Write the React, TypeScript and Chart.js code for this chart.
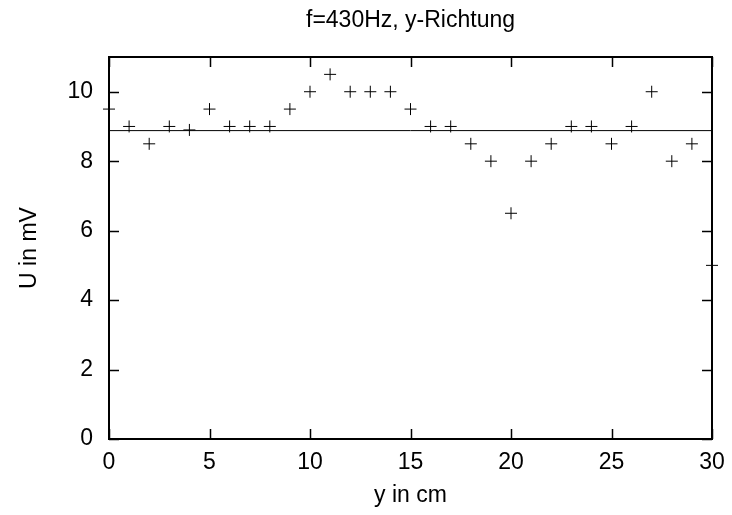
import React, { useEffect, useRef } from "react";
import { Chart, registerables } from "chart.js";

Chart.register(...registerables);

const titleText = "f=430Hz, y-Richtung";
const xAxisLabel = "y in cm";
const yAxisLabel = "U in mV";

const positions = [0, 1, 2, 3, 4, 5, 6, 7, 8, 9, 10, 11, 12, 13, 14, 15, 16, 17, 18, 19, 20, 21, 22, 23, 24, 25, 26, 27, 28, 29, 30];
const voltages = [9.5, 9, 8.5, 9, 8.9, 9.5, 9, 9, 9, 9.5, 10, 10.5, 10, 10, 10, 9.5, 9, 9, 8.5, 8, 6.5, 8, 8.5, 9, 9, 8.5, 9, 10, 8, 8.5, 5];
const meanVoltage = 8.88;

const xTicks = [0, 5, 10, 15, 20, 25, 30];
const yTicks = [0, 2, 4, 6, 8, 10];
const xMin = 0;
const xMax = 30;
const yMin = 0;
const yMax = 11;

const FONT = "'Liberation Sans', Arial, Helvetica, sans-serif";
const FONT_SIZE = 23;

const framePlugin = {
  id: "gnuplotFrame",
  afterDatasetsDraw(chart: any) {
    const { ctx, chartArea, scales } = chart;
    const { left, right, top, bottom } = chartArea;
    ctx.save();
    ctx.strokeStyle = "#000";
    ctx.lineWidth = 2;
    ctx.strokeRect(left, top, right - left, bottom - top);
    ctx.lineWidth = 1.5;
    const tl = 10;
    ctx.beginPath();
    for (const v of xTicks) {
      const x = Math.round(scales.x.getPixelForValue(v)) + 0.5;
      ctx.moveTo(x, bottom);
      ctx.lineTo(x, bottom - tl);
      ctx.moveTo(x, top);
      ctx.lineTo(x, top + tl);
    }
    for (const v of yTicks) {
      const y = Math.round(scales.y.getPixelForValue(v)) + 0.5;
      ctx.moveTo(left, y);
      ctx.lineTo(left + tl, y);
      ctx.moveTo(right, y);
      ctx.lineTo(right - tl, y);
    }
    ctx.stroke();

    ctx.fillStyle = "#000";
    ctx.font = `${FONT_SIZE}px ${FONT}`;
    ctx.textAlign = "center";
    ctx.textBaseline = "middle";
    ctx.fillText(titleText, (left + right) / 2, 21);
    ctx.fillText(xAxisLabel, (left + right) / 2, 496);
    ctx.translate(30, (top + bottom) / 2);
    ctx.rotate(-Math.PI / 2);
    ctx.fillText(yAxisLabel, 0, 0);
    ctx.restore();
  },
};

export default function App() {
  const canvasRef = useRef<HTMLCanvasElement | null>(null);

  useEffect(() => {
    document.body.style.margin = "0";
    const canvas = canvasRef.current;
    if (!canvas) return;
    const chart = new Chart(canvas, {
      type: "scatter",
      data: {
        datasets: [
          {
            label: "U",
            data: positions.map((p, i) => ({ x: p, y: voltages[i] })),
            showLine: false,
            pointStyle: "cross",
            pointRadius: 6,
            pointBorderWidth: 1,
            borderColor: "#000",
            backgroundColor: "#000",
            clip: false as any,
          },
          {
            label: "Mittelwert",
            data: [
              { x: xMin, y: meanVoltage },
              { x: xMax, y: meanVoltage },
            ],
            showLine: true,
            pointRadius: 0,
            borderWidth: 1,
            borderColor: "#000",
          },
        ],
      },
      options: {
        animation: false,
        responsive: false,
        maintainAspectRatio: false,
        layout: { padding: { top: 57, right: 20, left: 0, bottom: 0 } },
        plugins: {
          legend: { display: false },
          title: { display: false },
          tooltip: { enabled: false },
        },
        scales: {
          x: {
            type: "linear",
            min: xMin,
            max: xMax,
            afterBuildTicks: (s: any) => {
              s.ticks = xTicks.map((v) => ({ value: v }));
            },
            afterFit: (s: any) => {
              s.height = 76;
              s.paddingLeft = 0;
              s.paddingRight = 0;
            },
            grid: { display: false, drawTicks: false },
            border: { display: false },
            ticks: {
              color: "#000",
              padding: 10,
              maxRotation: 0,
              font: { family: FONT, size: FONT_SIZE },
            },
          },
          y: {
            type: "linear",
            min: yMin,
            max: yMax,
            afterBuildTicks: (s: any) => {
              s.ticks = yTicks.map((v) => ({ value: v }));
            },
            afterFit: (s: any) => {
              s.width = 109;
              s.paddingTop = 0;
              s.paddingBottom = 0;
            },
            grid: { display: false, drawTicks: false },
            border: { display: false },
            ticks: {
              color: "#000",
              padding: 16,
              font: { family: FONT, size: FONT_SIZE },
            },
          },
        },
      },
      plugins: [framePlugin],
    });
    return () => chart.destroy();
  }, []);

  return (
    <div style={{ width: 732, height: 515, position: "relative" }}>
      <canvas ref={canvasRef} width={732} height={515} style={{ display: "block" }} />
    </div>
  );
}
